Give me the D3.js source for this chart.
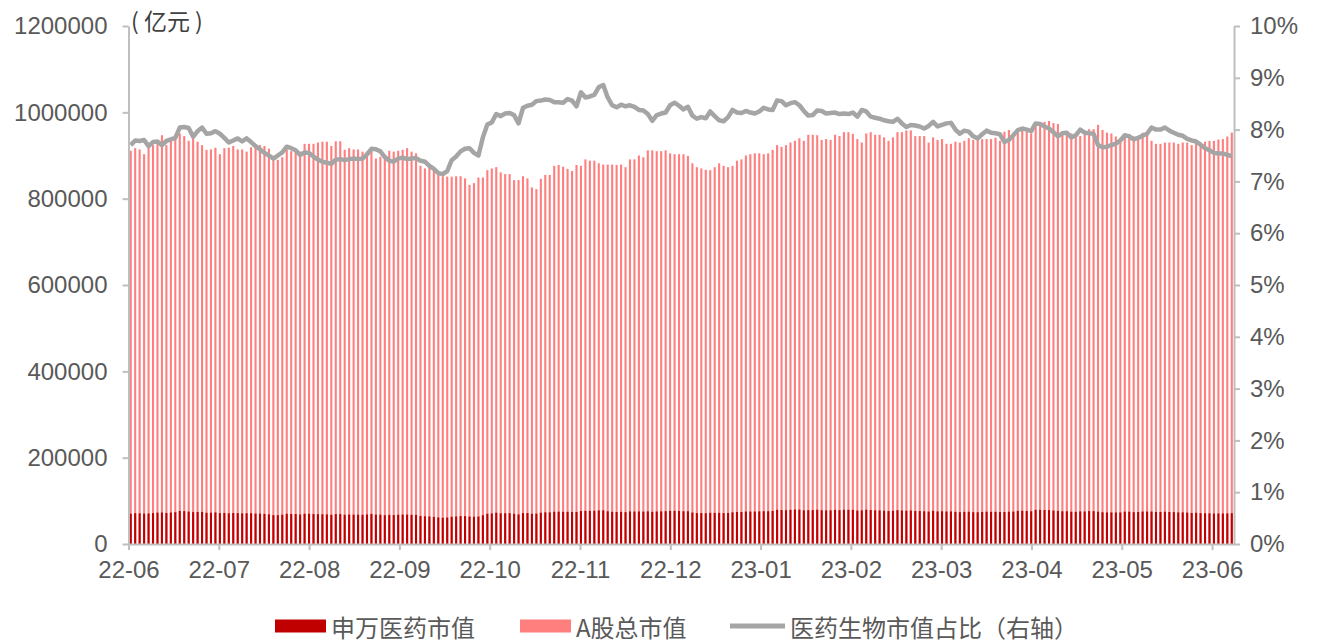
<!DOCTYPE html>
<html>
<head>
<meta charset="utf-8">
<script src="https://cdn.jsdelivr.net/npm/d3@7"></script>
<style>
  html, body { margin: 0; padding: 0; background: #fff; }
  svg { display: block; }
</style>
</head>
<body>
<svg id="chart" width="1319" height="643"></svg>
<script>
// ---------------- data ----------------
const monthLabels = ["22-06","22-07","22-08","22-09","22-10","22-11","22-12","23-01","23-02","23-03","23-04","23-05","23-06"];
const leftTicks = [0, 200000, 400000, 600000, 800000, 1000000, 1200000];
const rightTicks = [0,1,2,3,4,5,6,7,8,9,10];
const seriesNames = ["申万医药市值", "A股总市值", "医药生物市值占比（右轴）"];
const unitLabel = "( 亿元 )";

// A股总市值 (亿元), one value per trading day
const totalA = [
911000,917000,914000,903000,920000,924000,936000,947000,924000,934000,
940000,951000,945000,934000,940000,932000,924000,913000,914000,918000,
903000,917000,918000,922000,914000,914000,909000,919000,918000,924000,
922000,916000,899000,890000,896000,913000,910000,913000,909000,927000,
927000,927000,930000,932000,932000,922000,933000,933000,913000,917000,
914000,914000,909000,909000,913000,893000,897000,893000,911000,909000,
911000,913000,917000,909000,905000,876000,870000,874000,868000,859000,
852000,851000,851000,852000,852000,847000,832000,836000,849000,849000,
866000,870000,873000,861000,857000,857000,843000,843000,852000,847000,
826000,822000,846000,855000,855000,876000,878000,874000,869000,864000,
878000,876000,891000,888000,888000,882000,879000,879000,879000,878000,
879000,873000,891000,891000,900000,896000,912000,912000,910000,910000,
912000,905000,903000,903000,903000,899000,882000,873000,870000,867000,
866000,873000,882000,876000,873000,876000,888000,891000,900000,903000,
905000,905000,903000,905000,913000,924000,920000,924000,930000,934000,
940000,934000,948000,948000,947000,936000,938000,936000,948000,945000,
954000,954000,950000,938000,930000,951000,954000,948000,948000,942000,
934000,942000,954000,954000,958000,958000,945000,945000,945000,930000,
942000,936000,938000,927000,927000,932000,930000,934000,940000,936000,
940000,938000,938000,938000,941000,934000,955000,959000,951000,961000,
959000,955000,951000,975000,975000,978000,980000,975000,973000,955000,
955000,951000,944000,945000,948000,961000,961000,971000,959000,953000,
951000,944000,940000,951000,950000,944000,945000,953000,948000,934000,
927000,927000,930000,930000,930000,927000,930000,930000,924000,930000,
927000,932000,934000,934000,937000,938000,944000,953000
];

// 申万医药市值 (亿元)
const pharma = [
70100,71400,71100,70400,70700,71700,72700,72900,71900,72900,
73700,76500,76100,75000,73900,74300,74300,72300,72500,73200,
71500,71900,71100,71800,71600,71000,71200,71300,70500,70400,
69600,68700,66900,66800,67700,70000,69500,69400,68300,70100,
70000,69300,69000,68800,68600,67700,69200,69300,67700,68100,
68000,67900,67600,68400,69700,68000,68000,66700,67400,67100,
67800,68100,68100,67600,67400,64800,64200,63800,62800,61500,
60800,61300,63100,63700,64600,64600,63600,63100,63700,66600,
70100,70800,72500,71100,71200,71300,69800,68500,71700,71700,
70000,70300,72400,73400,73300,74700,74900,74500,74600,74000,
74200,76400,76800,76700,77000,77800,77900,75800,74500,74000,
74500,73800,75500,75200,75400,75000,75700,74500,75300,75600,
76000,76700,76900,76400,75800,75900,72900,71700,71700,71300,
72300,72100,72100,71500,71900,73400,74000,74100,75200,75200,
75200,75600,76000,75900,76500,79100,78700,78300,79100,79700,
79600,78100,78400,78500,79300,78200,77900,77900,79000,78400,
79300,79200,79100,77400,77900,79400,78700,78000,77800,77100,
76200,76800,78300,77500,77100,77500,76400,76200,75800,75100,
76800,75400,75900,75300,75400,74600,73700,74500,74800,73700,
73600,74200,74900,74500,74600,73900,74100,74800,75000,76800,
76900,76400,75800,79200,79100,78800,78600,77500,76600,75700,
75800,74700,74500,75600,75300,76200,76100,74800,73500,73100,
73200,73000,73200,75000,74800,73700,74100,75100,75100,75100,
74200,74200,74800,74200,73800,73200,73300,72700,72000,72300,
71500,71200,71000,70500,70700,70700,70900,71400
];

// 医药生物市值占比 (%)
const ratio = [
7.70,7.79,7.78,7.80,7.68,7.76,7.77,7.70,7.78,7.81,
7.84,8.04,8.05,8.03,7.86,7.97,8.04,7.92,7.93,7.97,
7.92,7.84,7.75,7.79,7.83,7.77,7.83,7.76,7.68,7.62,
7.55,7.50,7.44,7.50,7.56,7.67,7.64,7.60,7.51,7.56,
7.55,7.48,7.42,7.38,7.36,7.34,7.42,7.43,7.41,7.43,
7.44,7.43,7.44,7.52,7.63,7.62,7.58,7.47,7.40,7.38,
7.44,7.46,7.43,7.44,7.45,7.40,7.38,7.30,7.24,7.16,
7.14,7.20,7.41,7.48,7.58,7.63,7.64,7.55,7.50,7.85,
8.10,8.14,8.30,8.26,8.31,8.32,8.28,8.12,8.42,8.46,
8.48,8.55,8.56,8.58,8.57,8.53,8.53,8.52,8.59,8.56,
8.45,8.72,8.62,8.64,8.67,8.82,8.86,8.62,8.47,8.43,
8.48,8.45,8.47,8.44,8.38,8.37,8.30,8.17,8.28,8.31,
8.33,8.47,8.52,8.46,8.39,8.44,8.27,8.21,8.24,8.22,
8.35,8.26,8.18,8.16,8.24,8.38,8.33,8.32,8.36,8.33,
8.31,8.35,8.42,8.39,8.38,8.56,8.55,8.47,8.51,8.53,
8.47,8.36,8.27,8.28,8.37,8.36,8.31,8.32,8.33,8.30,
8.31,8.30,8.33,8.25,8.38,8.35,8.25,8.23,8.21,8.18,
8.16,8.15,8.21,8.12,8.05,8.09,8.08,8.06,8.02,8.07,
8.15,8.06,8.09,8.12,8.13,8.00,7.92,7.98,7.96,7.87,
7.83,7.91,7.98,7.94,7.93,7.91,7.76,7.80,7.89,7.99,
8.02,8.00,7.97,8.12,8.11,8.06,8.02,7.95,7.87,7.93,
7.94,7.85,7.89,8.00,7.94,7.93,7.92,7.70,7.66,7.67,
7.70,7.73,7.79,7.89,7.87,7.81,7.84,7.88,7.92,8.04,
8.00,8.00,8.04,7.98,7.94,7.90,7.88,7.82,7.79,7.77,
7.71,7.64,7.60,7.55,7.54,7.54,7.51,7.49
];

// ---------------- layout ----------------
const svg = d3.select("#chart");
const X0 = 128.5, X1 = 1234, Y0 = 544, Y1 = 26;
const monthSpan = 12.243;           // axis length measured in months
const axisColor = "#bfbfbf";
const textColor = "#595959";
const fontFamily = "'Liberation Sans', Arial, 'Noto Sans CJK SC', sans-serif";
const cjkFamily = "'Noto Sans CJK SC', 'Liberation Sans', sans-serif";
const tickFont = 24;

const idx = d3.range(totalA.length);
const xBand = d3.scaleBand().domain(idx).range([X0, X1]).paddingInner(0);
const xMonth = d3.scaleLinear().domain([0, monthSpan]).range([X0, X1]);
const yL = d3.scaleLinear().domain([0, 1200000]).range([Y0, Y1]);
const yR = d3.scaleLinear().domain([0, 10]).range([Y0, Y1]);

const barW = 2.1;
const cx = i => xBand(i) + xBand.bandwidth() / 2;

// bars: A股总市值 behind, 申万医药 in front
svg.append("g").selectAll("rect").data(totalA).join("rect")
  .attr("x", (d, i) => cx(i) - barW / 2)
  .attr("y", d => yL(d))
  .attr("width", barW)
  .attr("height", d => Y0 - yL(d))
  .attr("fill", "#ff7f7f");

svg.append("g").selectAll("rect").data(pharma).join("rect")
  .attr("x", (d, i) => cx(i) - barW / 2)
  .attr("y", d => yL(d))
  .attr("width", barW)
  .attr("height", d => Y0 - yL(d))
  .attr("fill", "#c00000");

// line: ratio on right axis
const line = d3.line().x((d, i) => cx(i)).y(d => yR(d)).curve(d3.curveLinear);
svg.append("path").datum(ratio)
  .attr("d", line)
  .attr("fill", "none")
  .attr("stroke", "#a5a5a5")
  .attr("stroke-width", 4.5)
  .attr("stroke-linejoin", "round");

// axes
function styleAxis(g) {
  g.selectAll(".domain").attr("stroke", axisColor).attr("stroke-width", 2);
  g.selectAll(".tick line").attr("stroke", axisColor).attr("stroke-width", 2);
  g.selectAll(".tick text").attr("fill", textColor)
    .style("font-size", tickFont + "px").style("font-family", fontFamily);
}

const gL = svg.append("g").attr("transform", `translate(${X0},0)`)
  .call(d3.axisLeft(yL).tickValues(leftTicks).tickFormat(d3.format("d"))
    .tickSize(6).tickSizeOuter(0).tickPadding(15));
styleAxis(gL);

const gR = svg.append("g").attr("transform", `translate(${X1},0)`)
  .call(d3.axisRight(yR).tickValues(rightTicks).tickFormat(d => d + "%")
    .tickSize(6).tickSizeOuter(0).tickPadding(10));
styleAxis(gR);

const gB = svg.append("g").attr("transform", `translate(0,${Y0})`)
  .call(d3.axisBottom(xMonth).tickValues(d3.range(monthLabels.length))
    .tickFormat(i => monthLabels[i]).tickSize(6).tickSizeOuter(0).tickPadding(11));
styleAxis(gB);

// unit label
svg.append("text").attr("x", 131).attr("y", 30)
  .attr("fill", "#404040").style("font-size", "23px").style("font-family", cjkFamily)
  .text(unitLabel);

// legend
const legY = 626;
const leg = svg.append("g");
const legItems = [
  { x: 275, type: "rect", color: "#c00000", name: seriesNames[0] },
  { x: 520, type: "rect", color: "#ff7f7f", name: seriesNames[1] },
  { x: 730, type: "line", color: "#a5a5a5", name: seriesNames[2] }
];
legItems.forEach(it => {
  if (it.type === "rect") {
    leg.append("rect").attr("x", it.x).attr("y", legY - 6.5).attr("width", 51).attr("height", 13).attr("fill", it.color);
  } else {
    leg.append("line").attr("x1", it.x).attr("x2", it.x + 55).attr("y1", legY).attr("y2", legY)
      .attr("stroke", it.color).attr("stroke-width", 5);
  }
  leg.append("text").attr("x", it.x + (it.type === "rect" ? 56 : 60)).attr("y", legY)
    .attr("dominant-baseline", "central")
    .attr("fill", textColor).style("font-size", "24px").style("font-family", cjkFamily)
    .text(it.name);
});
</script>
</body>
</html>
